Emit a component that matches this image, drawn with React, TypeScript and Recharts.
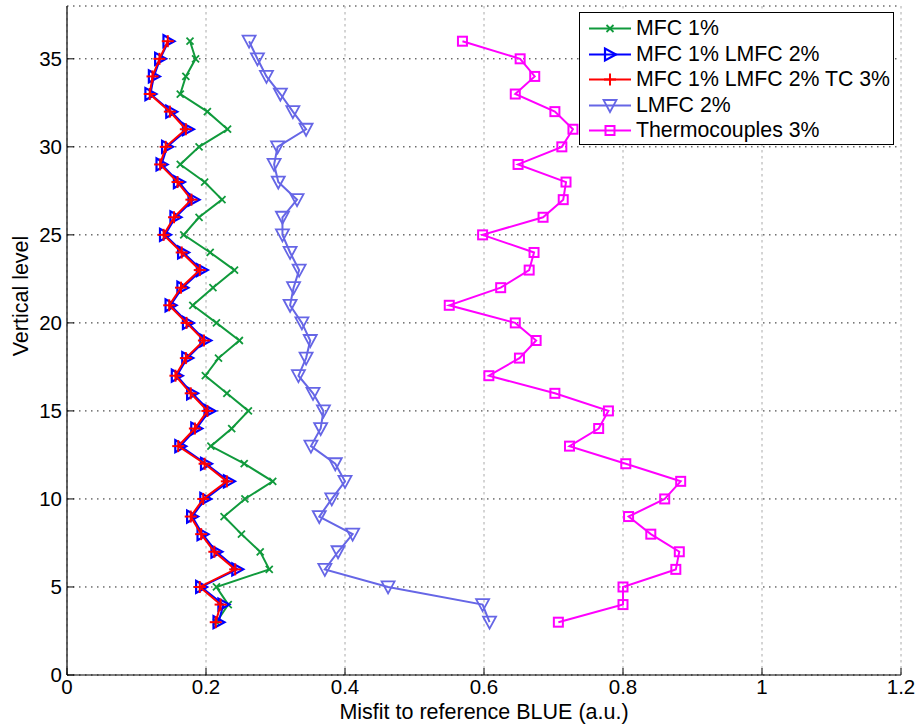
import { ScatterChart, Scatter, XAxis, YAxis, CartesianGrid, Legend, Label } from 'recharts'

/* ---------- data ---------- */

const levels = [
  36, 35, 34, 33, 32, 31, 30, 29, 28, 27, 26, 25, 24, 23, 22, 21, 20,
  19, 18, 17, 16, 15, 14, 13, 12, 11, 10, 9, 8, 7, 6, 5, 4, 3,
]

const mfc1 = [
  0.177, 0.185, 0.171, 0.163, 0.202, 0.231, 0.19, 0.163, 0.198, 0.223, 0.19, 0.168, 0.206, 0.241, 0.21, 0.181, 0.215,
  0.248, 0.218, 0.199, 0.23, 0.261, 0.237, 0.207, 0.255, 0.296, 0.256, 0.226, 0.251, 0.278, 0.291, 0.215, 0.232, 0.215,
]

const mfcLmfc = [
  0.146, 0.134, 0.125, 0.12, 0.15, 0.174, 0.144, 0.136, 0.161, 0.182, 0.156, 0.141, 0.167, 0.194, 0.166, 0.149, 0.174,
  0.199, 0.173, 0.158, 0.18, 0.205, 0.186, 0.163, 0.2, 0.233, 0.199, 0.18, 0.195, 0.215, 0.245, 0.193, 0.225, 0.218,
]

const mfcLmfcTc = [
  0.145, 0.133, 0.123, 0.119, 0.148, 0.171, 0.142, 0.134, 0.159, 0.179, 0.154, 0.139, 0.165, 0.191, 0.164, 0.147, 0.172,
  0.197, 0.171, 0.156, 0.178, 0.202, 0.184, 0.16, 0.198, 0.23, 0.196, 0.178, 0.193, 0.212, 0.242, 0.191, 0.221, 0.214,
]

const lmfc2 = [
  0.262, 0.274, 0.287, 0.307, 0.325, 0.344, 0.303, 0.298, 0.304, 0.331, 0.31, 0.31, 0.321, 0.334, 0.326, 0.321, 0.338,
  0.35, 0.344, 0.333, 0.354, 0.369, 0.365, 0.351, 0.386, 0.4, 0.381, 0.363, 0.411, 0.39, 0.371, 0.462, 0.598, 0.608,
]

const thermo3 = [
  0.569, 0.652, 0.673, 0.645, 0.702, 0.728, 0.712, 0.649, 0.718, 0.714, 0.685, 0.598, 0.672, 0.665, 0.624, 0.55, 0.645,
  0.675, 0.651, 0.607, 0.702, 0.779, 0.765, 0.723, 0.804, 0.883, 0.86, 0.808, 0.84, 0.881, 0.876, 0.8, 0.8, 0.707,
]

const xTicks = [0, 0.2, 0.4, 0.6, 0.8, 1, 1.2]
const yTicks = [0, 5, 10, 15, 20, 25, 30, 35]

const FONT = '"Liberation Sans", Arial, Helvetica, sans-serif'

type MarkerKind = 'x' | 'triRight' | 'plus' | 'triDown' | 'square'

const series: { name: string; values: number[]; color: string; marker: MarkerKind }[] = [
  { name: 'MFC 1%', values: mfc1, color: '#109a3c', marker: 'x' },
  { name: 'MFC 1% LMFC 2%', values: mfcLmfc, color: '#0000ff', marker: 'triRight' },
  { name: 'MFC 1% LMFC 2% TC 3%', values: mfcLmfcTc, color: '#ff0000', marker: 'plus' },
  { name: 'LMFC 2%', values: lmfc2, color: '#6666e6', marker: 'triDown' },
  { name: 'Thermocouples 3%', values: thermo3, color: '#ff00ff', marker: 'square' },
]

/* ---------- helpers ---------- */

function drawMarker(kind: MarkerKind, cx: number, cy: number, color: string) {
  switch (kind) {
    case 'x':
      return (
        <g stroke={color} strokeWidth={1.8}>
          <line x1={cx - 3.5} y1={cy - 3.5} x2={cx + 3.5} y2={cy + 3.5} />
          <line x1={cx - 3.5} y1={cy + 3.5} x2={cx + 3.5} y2={cy - 3.5} />
        </g>
      )
    case 'triRight':
      return (
        <polygon
          points={`${cx - 5},${cy - 6} ${cx - 5},${cy + 6} ${cx + 6},${cy}`}
          fill="none"
          stroke={color}
          strokeWidth={2.2}
        />
      )
    case 'plus':
      return (
        <g stroke={color} strokeWidth={2}>
          <line x1={cx - 6} y1={cy} x2={cx + 6} y2={cy} />
          <line x1={cx} y1={cy - 6} x2={cx} y2={cy + 6} />
        </g>
      )
    case 'triDown':
      return (
        <polygon
          points={`${cx - 6.5},${cy - 5.5} ${cx + 6.5},${cy - 5.5} ${cx},${cy + 6.5}`}
          fill="none"
          stroke={color}
          strokeWidth={1.8}
        />
      )
    case 'square':
      return <rect x={cx - 4.5} y={cy - 4.5} width={9} height={9} fill="none" stroke={color} strokeWidth={2} />
  }
}

const fmtX = (v: number) => String(v)

// eslint-disable-next-line @typescript-eslint/no-explicit-any
const YTick = (props: any) => {
  const { x, y, payload } = props
  return (
    <g>
      <line x1={x + 5} x2={x + 12} y1={y} y2={y} stroke="#000" strokeWidth={1} />
      <text x={x} y={y + 7} textAnchor="end" fontSize={20.5} fontFamily={FONT} fill="#000">
        {payload.value}
      </text>
    </g>
  )
}

// eslint-disable-next-line @typescript-eslint/no-explicit-any
const XTick = (props: any) => {
  const { x, y, payload } = props
  return (
    <g>
      <line x1={x} x2={x} y1={y - 4} y2={y - 11} stroke="#000" strokeWidth={1} />
      <text x={x} y={y + 15} textAnchor="middle" fontSize={20.5} fontFamily={FONT} fill="#000">
        {fmtX(payload.value)}
      </text>
    </g>
  )
}

const LegendBox = () => (
  <div
    style={{
      position: 'relative',
      width: 315,
      height: 133,
      border: '1.5px solid #000',
      background: '#fff',
      boxSizing: 'border-box',
      fontFamily: FONT,
    }}
  >
    {series.map((s, i) => (
      <div
        key={s.name}
        style={{ position: 'absolute', left: 0, top: 3 + i * 25.5, height: 25, display: 'flex', alignItems: 'center' }}
      >
        <svg width={56} height={25} style={{ display: 'block' }}>
          <line x1={9} x2={51} y1={12.5} y2={12.5} stroke={s.color} strokeWidth={2} />
          {drawMarker(s.marker, 30, 12.5, s.color)}
        </svg>
        <span style={{ fontSize: 21.3, color: '#000', whiteSpace: 'nowrap' }}>{s.name}</span>
      </div>
    ))}
  </div>
)

/* ---------- component ---------- */

export default function App() {
  return (
    <div style={{ position: 'absolute', left: 0, top: 0, background: '#fff' }}>
      <ScatterChart width={919} height={724} margin={{ top: 6, right: 18, bottom: 0, left: 0 }}>
        <CartesianGrid vertical={false} stroke="#222" strokeDasharray="1.5 4.5" />
        <CartesianGrid horizontal={false} stroke="#aaa" strokeDasharray="2.5 3.5" />

        <XAxis
          type="number"
          dataKey="x"
          domain={[0, 1.2]}
          ticks={xTicks}
          allowDataOverflow
          height={49}
          tickSize={0}
          tickMargin={4}
          tick={<XTick />}
          axisLine={{ stroke: '#000', strokeWidth: 1.2 }}
        >
          <Label
            content={() => (
              <text x={484} y={719} textAnchor="middle" fontSize={21.5} fontFamily={FONT} fill="#000">
                Misfit to reference BLUE (a.u.)
              </text>
            )}
          />
        </XAxis>

        <YAxis
          type="number"
          dataKey="y"
          domain={[0, 38]}
          ticks={yTicks}
          allowDataOverflow
          width={67}
          tickSize={0}
          tickMargin={5}
          tick={<YTick />}
          axisLine={{ stroke: '#000', strokeWidth: 1.2 }}
        >
          <Label
            content={() => (
              <text
                x={28}
                y={296}
                transform="rotate(-90 28 296)"
                textAnchor="middle"
                fontSize={21.5}
                fontFamily={FONT}
                fill="#000"
              >
                Vertical level
              </text>
            )}
          />
        </YAxis>

        {series.map((s) => (
          <Scatter
            key={s.name}
            name={s.name}
            data={levels.map((lv, i) => ({ x: s.values[i], y: lv }))}
            line={{ stroke: s.color, strokeWidth: 2 }}
            lineType="joint"
            isAnimationActive={false}
            // eslint-disable-next-line @typescript-eslint/no-explicit-any
            shape={(p: any) => drawMarker(s.marker, p.cx, p.cy, s.color)}
          />
        ))}

        <Legend
          layout="vertical"
          align="center"
          verticalAlign="middle"
          wrapperStyle={{ left: 579, top: 12, width: 315, height: 133 }}
          content={() => <LegendBox />}
        />
      </ScatterChart>
    </div>
  )
}
